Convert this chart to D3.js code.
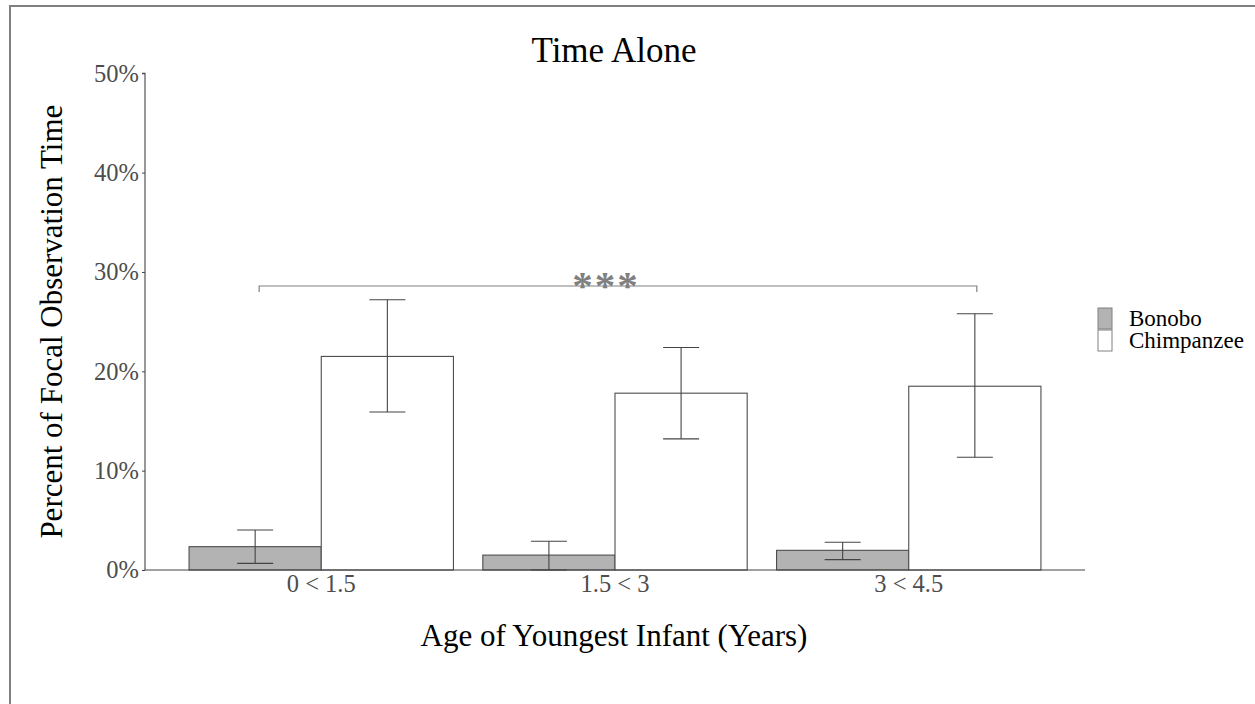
<!DOCTYPE html>
<html><head><meta charset="utf-8">
<script src="https://cdnjs.cloudflare.com/ajax/libs/d3/7.8.5/d3.min.js"></script>
<style>body{margin:0;background:#fff;overflow:hidden}svg{display:block}text{font-family:"Liberation Serif","Times New Roman",serif}</style>
</head><body><svg id="c" width="1255" height="704"></svg>
<script>
const categories = ["0 < 1.5", "1.5 < 3", "3 < 4.5"];
const species = ["Bonobo", "Chimpanzee"];
const bonoboMean = [2.35, 1.5, 1.98];
const bonoboLow = [0.67, 0.0, 1.04];
const bonoboHigh = [4.03, 2.9, 2.8];
const chimpMean = [21.5, 17.8, 18.5];
const chimpLow = [15.9, 13.2, 11.35];
const chimpHigh = [27.2, 22.4, 25.8];
const yTicks = [0, 10, 20, 30, 40, 50];
const fills = ["#b3b3b3", "#ffffff"];

(function(){
const svg = d3.select("#c");
svg.append("rect").attr("x",10).attr("y",6).attr("width",1260).attr("height",720)
  .attr("fill","none").attr("stroke","#808080").attr("stroke-width",2);

const pLeft=145, pRight=1085, pTop=73.3, pBottom=570;
const y = d3.scaleLinear().domain([0,50]).range([pBottom, pTop]);
const x = d3.scalePoint().domain(categories).range([pLeft, pRight]).padding(0.6);
const step = x.step();
const groupW = step*0.9;
const xs = d3.scaleBand().domain(species).range([-groupW/2, groupW/2]);

const rows = [];
categories.forEach((c,i)=>{
  rows.push({c, s:"Bonobo", m:bonoboMean[i], lo:bonoboLow[i], hi:bonoboHigh[i]});
  rows.push({c, s:"Chimpanzee", m:chimpMean[i], lo:chimpLow[i], hi:chimpHigh[i]});
});

const g = svg.append("g");
g.selectAll("rect.bar").data(rows).enter().append("rect")
  .attr("x", d=>x(d.c)+xs(d.s)).attr("width", xs.bandwidth())
  .attr("y", d=>y(d.m)).attr("height", d=>y(0)-y(d.m))
  .attr("fill", d=>fills[species.indexOf(d.s)]).attr("stroke","#4d4d4d").attr("stroke-width",1.1);

const capW = 36;
rows.forEach(d=>{
  const ex = x(d.c)+xs(d.s)+xs.bandwidth()/2;
  const eg = g.append("g").attr("stroke","#444").attr("stroke-width",1.1);
  eg.append("line").attr("x1",ex).attr("x2",ex).attr("y1",y(d.lo)).attr("y2",y(d.hi));
  eg.append("line").attr("x1",ex-capW/2).attr("x2",ex+capW/2).attr("y1",y(d.lo)).attr("y2",y(d.lo));
  eg.append("line").attr("x1",ex-capW/2).attr("x2",ex+capW/2).attr("y1",y(d.hi)).attr("y2",y(d.hi));
});

const yAxis = svg.append("g").attr("transform",`translate(${pLeft},0)`)
  .call(d3.axisLeft(y).tickValues(yTicks).tickFormat(d=>d+"%").tickSize(3).tickPadding(3));
yAxis.select(".domain").attr("stroke","#444").attr("stroke-width",1.1).attr("d",`M-3,${pTop}H0V${pBottom}`);
yAxis.selectAll(".tick line").attr("stroke","#444");
yAxis.selectAll(".tick text").attr("fill","#4d4d4d").attr("font-size",24.5).attr("font-family","Liberation Serif");

const xAxisG = svg.append("g");
xAxisG.append("line").attr("x1",pLeft).attr("x2",pRight).attr("y1",pBottom).attr("y2",pBottom)
  .attr("stroke","#444").attr("stroke-width",1.1);
xAxisG.selectAll("text").data(categories).enter().append("text")
  .attr("x", d=>x(d)).attr("y", 592).attr("text-anchor","middle")
  .attr("fill","#4d4d4d").attr("font-size",24.5).text(d=>d);

const bx1 = x(categories[0]) + xs("Bonobo") + xs.bandwidth()/2 + 4;
const bx2 = x(categories[2]) + xs("Chimpanzee") + xs.bandwidth()/2 + 2;
const by = 286;
svg.append("path").attr("d",`M${bx1},${by+6}V${by}H${bx2}V${by+6}`)
  .attr("fill","none").attr("stroke","#808080").attr("stroke-width",1.2);
svg.append("text").attr("x",606).attr("y",299).attr("text-anchor","middle")
  .attr("fill","#808080").attr("font-size",41).attr("font-weight","bold")
  .attr("letter-spacing",2).attr("font-family","DejaVu Sans").text("***");

svg.append("text").attr("x",614).attr("y",62).attr("text-anchor","middle")
  .attr("font-size",35).attr("fill","#000").text("Time Alone");
svg.append("text").attr("x",614).attr("y",646).attr("text-anchor","middle")
  .attr("font-size",31).attr("fill","#000").text("Age of Youngest Infant (Years)");
svg.append("text").attr("transform",`translate(62,${(pTop+pBottom)/2}) rotate(-90)`)
  .attr("text-anchor","middle").attr("font-size",31).attr("fill","#000").text("Percent of Focal Observation Time");

const lg = svg.append("g").attr("transform","translate(1098,308)");
species.forEach((s,i)=>{
  lg.append("rect").attr("x",0).attr("y",i*22).attr("width",14).attr("height",21)
    .attr("fill",fills[i]).attr("stroke","#808080").attr("stroke-width",1);
  lg.append("text").attr("x",31).attr("y",i*22+18).attr("font-size",23).attr("fill","#000").text(s);
});
})();
</script></body></html>
